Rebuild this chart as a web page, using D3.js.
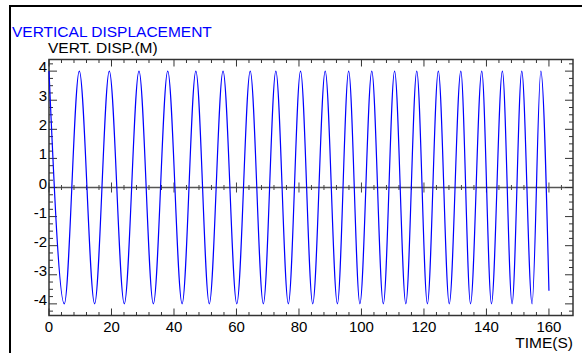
<!DOCTYPE html>
<html><head><meta charset="utf-8">
<script src="https://cdn.jsdelivr.net/npm/d3@7"></script>
<style>body{margin:0;background:#fff}svg{display:block}text{font-family:"Liberation Sans",Arial,sans-serif}</style>
</head><body><svg id="c" width="582" height="353"></svg>
<script>
// extrema (peaks / troughs), plus start and end point
const times = [0, 4.9, 9.7, 14.6, 19.3, 24.1, 28.8, 33.4, 38.0, 42.6, 47.0, 51.3, 55.7, 60.1, 64.4, 68.6, 72.6, 76.6, 80.5, 84.4, 88.4, 92.3, 95.9, 99.5, 103.3, 107.0, 110.6, 114.2, 117.7, 121.1, 124.6, 128.1, 131.8, 134.9, 138.5, 141.6, 145.1, 148.2, 151.3, 154.6, 157.4, 160];
const disp  = [4.0, -4.0, 4.0, -4.0, 4.0, -4.0, 4.0, -4.0, 4.0, -4.0, 4.0, -4.0, 4.0, -4.0, 4.0, -4.0, 4.0, -4.0, 4.0, -4.0, 4.0, -4.0, 4.0, -4.0, 4.0, -4.0, 4.0, -4.0, 4.0, -4.0, 4.0, -4.0, 4.0, -4.0, 4.0, -4.0, 4.0, -4.0, 4.0, -4.0, 4.0, -3.55];
const xTicks = [0, 20, 40, 60, 80, 100, 120, 140, 160];
const yTicks = [-4, -3, -2, -1, 0, 1, 2, 3, 4];
const title = "VERTICAL DISPLACEMENT";
const yTitle = "VERT. DISP.(M)";
const xTitle = "TIME(S)";

const svg = d3.select("#c");
const L = 49, R = 573, T = 59.5, B = 315.5;
const x = d3.scaleLinear().domain([0, 167.7]).range([L, R]);
const y = d3.scaleLinear().domain([-4.4, 4.4]).range([B, T]);

// outer frame
svg.append("rect").attr("x", 10).attr("y", 6).attr("width", 620).attr("height", 420)
  .attr("fill", "none").attr("stroke", "#000").attr("stroke-width", 2);

svg.append("text").attr("x", 12).attr("y", 37).attr("fill", "#0000ff")
  .style("font-size", "15.5px").text(title);
svg.append("text").attr("x", 48).attr("y", 53).attr("fill", "#000")
  .style("font-size", "15.5px").text(yTitle);
svg.append("text").attr("x", 573).attr("y", 348).attr("text-anchor", "end").attr("fill", "#000")
  .style("font-size", "15.5px").text(xTitle);

const axc = "#333";
const g = svg.append("g");
const xMinor = d3.range(0, 168, 4);
const yMinor = d3.range(-4.25, 4.3, 0.25);
const isMajX = v => Math.abs(v % 20) < 1e-6;
const isMajY = v => Math.abs(v - Math.round(v)) < 1e-6;

// zero line
g.append("line").attr("x1", L).attr("x2", R).attr("y1", y(0)).attr("y2", y(0))
  .attr("stroke", "#555").attr("stroke-width", 1.5);
xMinor.forEach(v => {
  const h = isMajX(v) ? 5 : 2.5;
  g.append("line").attr("x1", x(v)).attr("x2", x(v)).attr("y1", y(0) - h).attr("y2", y(0) + h)
    .attr("stroke", "#444").attr("stroke-width", 1);
});

// the curve
const pts = times.map((t, i) => [t, disp[i]]);
svg.append("path").datum(pts)
  .attr("d", d3.line().x(d => x(d[0])).y(d => y(d[1])).curve(d3.curveMonotoneX))
  .attr("fill", "none").attr("stroke", "#0000ff").attr("stroke-width", 1.2);

// box
g.append("rect").attr("x", L).attr("y", T).attr("width", R - L).attr("height", B - T)
  .attr("fill", "none").attr("stroke", axc).attr("stroke-width", 1.5);

xMinor.forEach(v => {
  const h = isMajX(v) ? 7 : 3.5;
  g.append("line").attr("x1", x(v)).attr("x2", x(v)).attr("y1", B).attr("y2", B - h).attr("stroke", axc);
  g.append("line").attr("x1", x(v)).attr("x2", x(v)).attr("y1", T).attr("y2", T + h).attr("stroke", axc);
});
yMinor.forEach(v => {
  const h = isMajY(v) ? 8 : 4;
  g.append("line").attr("x1", L).attr("x2", L + h).attr("y1", y(v)).attr("y2", y(v)).attr("stroke", axc);
  g.append("line").attr("x1", R).attr("x2", R - h).attr("y1", y(v)).attr("y2", y(v)).attr("stroke", axc);
});

xTicks.forEach(v => {
  svg.append("text").attr("x", x(v)).attr("y", 332).attr("text-anchor", "middle")
    .style("font-size", "15px").text(v);
});
yTicks.forEach(v => {
  svg.append("text").attr("x", 47).attr("y", y(v) + 1).attr("text-anchor", "end")
    .style("font-size", "15px").text(String(v).replace("\u2212", "-"));
});
</script></body></html>
